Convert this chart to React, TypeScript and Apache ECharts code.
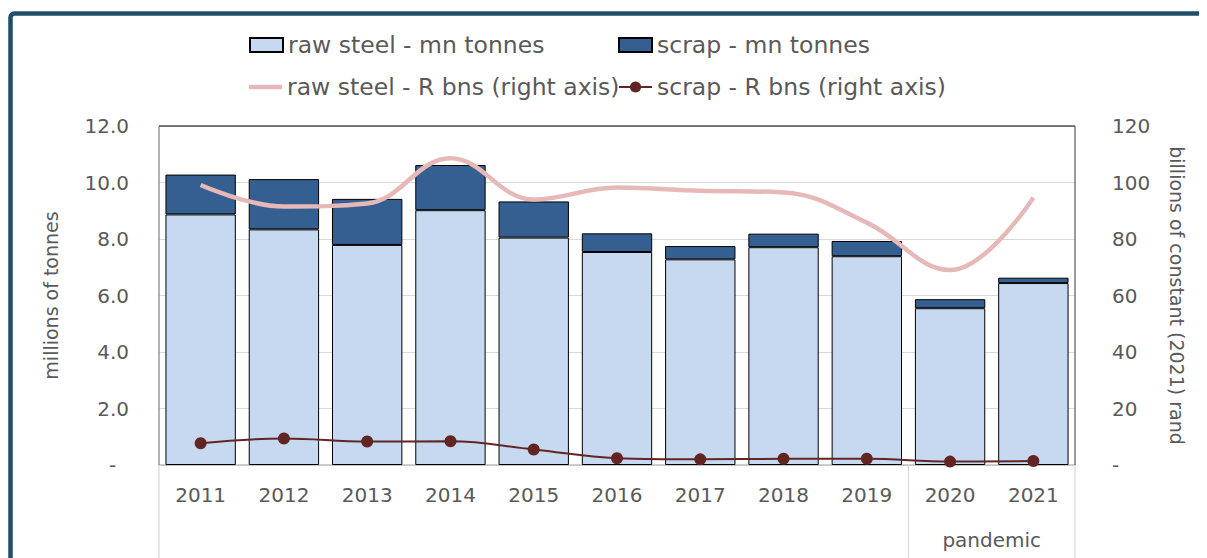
import React, { useEffect, useRef } from "react";
import * as echarts from "echarts";

const years = ["2011", "2012", "2013", "2014", "2015", "2016", "2017", "2018", "2019", "2020", "2021"];
const rawSteelTonnes = [8.87, 8.34, 7.79, 9.02, 8.05, 7.54, 7.28, 7.71, 7.39, 5.55, 6.44];
const scrapTonnes = [1.41, 1.78, 1.63, 1.6, 1.28, 0.66, 0.47, 0.48, 0.54, 0.32, 0.19];
const rawSteelRand = [99.1, 91.5, 92.6, 108.6, 94.0, 98.2, 97.1, 96.5, 85.8, 69.0, 94.6];
const scrapRand = [7.7, 9.4, 8.3, 8.4, 5.5, 2.4, 2.0, 2.2, 2.2, 1.2, 1.4];
const pandemicYears = ["2020", "2021"];
const groupLabel = "pandemic";
const seriesNames = [
  "raw steel - mn tonnes",
  "scrap - mn tonnes",
  "raw steel - R bns (right axis)",
  "scrap - R bns (right axis)",
];
const leftAxisName = "millions of tonnes";
const rightAxisName = "billions of constant (2021) rand";
const leftMax = 12;
const leftInterval = 2;
const rightMax = 120;
const rightInterval = 20;

const FONT = "DejaVu Sans";
const TXT = "#595959";

export default function App() {
  const ref = useRef<HTMLDivElement>(null);
  useEffect(() => {
    if (!ref.current) return;
    const chart = echarts.init(ref.current, null, { renderer: "svg" });
    const legendText = { fontFamily: FONT, fontSize: 23.5, color: TXT, lineHeight: 28 };
    const mkLegend = (name: string, left: number, top: number, icon?: string, itemHeight = 14) => ({
      show: true,
      data: [icon ? { name, icon } : name],
      left,
      top,
      padding: 0,
      itemWidth: 33,
      itemHeight,
      itemGap: 0,
      textStyle: legendText,
      selectedMode: false,
    });
    const option: any = {
      animation: false,
      backgroundColor: "#ffffff",
      legend: [
        mkLegend(seriesNames[0], 241, 23, "rect", 14),
        mkLegend(seriesNames[1], 610, 23, "rect", 14),
        mkLegend(seriesNames[2], 241, 65, "rect", 4.5),
        mkLegend(seriesNames[3], 610, 65),
      ],
      grid: { left: 151, top: 118, width: 916, height: 339, containLabel: false },
      xAxis: {
        type: "category",
        data: years,
        boundaryGap: true,
        axisLine: { show: true, lineStyle: { color: "#BFBFBF", width: 1.5 } },
        axisTick: { show: false },
        axisLabel: { fontFamily: FONT, fontSize: 20, color: TXT, margin: 20 },
      },
      yAxis: [
        {
          type: "value",
          min: 0,
          max: leftMax,
          interval: leftInterval,
          name: leftAxisName,
          nameLocation: "middle",
          nameGap: 99,
          nameRotate: 90,
          nameTextStyle: { fontFamily: FONT, fontSize: 19, color: TXT },
          axisLine: { show: false },
          axisTick: { show: false },
          splitLine: { show: true, lineStyle: { color: "#D9D9D9", width: 1 } },
          axisLabel: {
            fontFamily: FONT,
            fontSize: 20,
            color: TXT,
            margin: 30,
            formatter: (v: number) => (v === 0 ? "-  " : v.toFixed(1)),
          },
        },
        {
          type: "value",
          min: 0,
          max: rightMax,
          interval: rightInterval,
          position: "right",
          name: rightAxisName,
          nameLocation: "middle",
          nameGap: 92,
          nameRotate: -90,
          nameTextStyle: { fontFamily: FONT, fontSize: 19, color: TXT },
          axisLine: { show: false },
          axisTick: { show: false },
          splitLine: { show: false },
          axisLabel: {
            fontFamily: FONT,
            fontSize: 20,
            color: TXT,
            margin: 37,
            formatter: (v: number) => (v === 0 ? "-" : String(v)),
          },
        },
      ],
      series: [
        {
          name: seriesNames[0],
          type: "bar",
          stack: "t",
          data: rawSteelTonnes,
          barCategoryGap: "15.5%",
          itemStyle: { color: "#C6D9F0", borderColor: "#000000", borderWidth: 1 },
        },
        {
          name: seriesNames[1],
          type: "bar",
          stack: "t",
          data: scrapTonnes,
          barCategoryGap: "15.5%",
          itemStyle: { color: "#365F91", borderColor: "#000000", borderWidth: 1 },
        },
        {
          name: seriesNames[2],
          type: "line",
          yAxisIndex: 1,
          data: rawSteelRand,
          smooth: 0.4,
          showSymbol: false,
          symbol: "none",
          lineStyle: { color: "#E6B9B8", width: 4.5 },
          itemStyle: { color: "#E6B9B8", borderWidth: 0 },
          z: 5,
        },
        {
          name: seriesNames[3],
          type: "line",
          yAxisIndex: 1,
          data: scrapRand,
          smooth: 0.4,
          symbol: "circle",
          symbolSize: 12,
          lineStyle: { color: "#632523", width: 2 },
          itemStyle: { color: "#632523" },
          z: 6,
        },
      ],
    };
    chart.setOption(option);

    const cx = (c: string) => chart.convertToPixel({ xAxisIndex: 0 }, c) as number;
    const band = cx(years[1]) - cx(years[0]);
    const leftB = cx(years[0]) - band / 2;
    const rightB = cx(years[years.length - 1]) + band / 2;
    const sepB = cx(pandemicYears[0]) - band / 2;
    const grpEnd = cx(pandemicYears[pandemicYears.length - 1]) + band / 2;
    const yTop = chart.convertToPixel({ yAxisIndex: 0 }, leftMax) as number;
    const yBot = chart.convertToPixel({ yAxisIndex: 0 }, 0) as number;
    const yEnd = 552;
    const ln = (x1: number, y1: number, x2: number, y2: number, stroke: string, w = 1) => ({
      type: "line",
      silent: true,
      z: 50,
      shape: { x1, y1, x2, y2 },
      style: { stroke, lineWidth: w },
    });
    chart.setOption({
      graphic: {
        elements: [
          {
            type: "rect",
            silent: true,
            z: 60,
            shape: { x: 2.5, y: 5.5, width: 1400, height: 800, r: 4 },
            style: { fill: "transparent", stroke: "#1F4E69", lineWidth: 4.5 },
          },
          ln(leftB, yTop, rightB, yTop, "#000000", 1.2),
          ln(leftB, yTop, leftB, yBot, "#7F7F7F", 1.2),
          ln(rightB, yTop, rightB, yBot, "#595959", 1.2),
          ln(leftB, yBot, leftB, yEnd, "#D9D9D9", 1.2),
          ln(sepB, yBot, sepB, yEnd, "#D9D9D9", 1.2),
          ln(grpEnd, yBot, grpEnd, yEnd, "#D9D9D9", 1.2),
          {
            type: "text",
            silent: true,
            z: 50,
            x: (sepB + grpEnd) / 2,
            y: 532,
            style: {
              text: groupLabel,
              fill: TXT,
              fontFamily: FONT,
              fontSize: 20,
              align: "center",
              verticalAlign: "middle",
            },
          },
        ],
      },
    });
    return () => chart.dispose();
  }, []);
  return <div ref={ref} style={{ width: 1199, height: 550 }} />;
}
